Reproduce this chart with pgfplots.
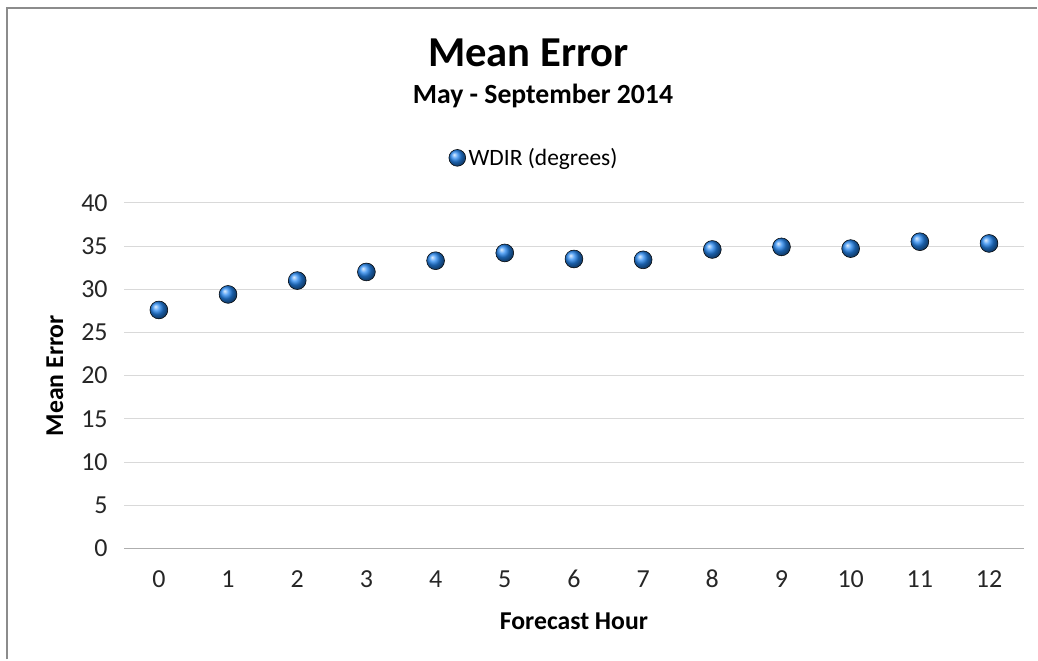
\documentclass[border=0pt]{standalone}
\usepackage{pgfplots}
\pgfplotsset{compat=1.18}
\usepackage{fontspec}
\setmainfont{Carlito}
\definecolor{ballblue}{RGB}{38,135,240}
\definecolor{gridgray}{RGB}{217,217,217}
\definecolor{framegray}{RGB}{140,140,140}
\begin{document}
\begin{tikzpicture}
\path (0,0) rectangle (778.5pt,495pt);
\draw[framegray,line width=1.5pt] (5.5pt,0) -- (5.5pt,489pt) -- (778.5pt,489pt);
\begin{axis}[
  at={(93.3pt,83.25pt)}, anchor=south west,
  scale only axis, width=675.15pt, height=259.5pt,
  xmin=-0.5, xmax=12.5, ymin=0, ymax=40,
  xtick={0,...,12}, ytick={0,5,...,40},
  axis x line=bottom, axis y line=left,
  x axis line style={draw=gridgray!80!black, line width=0.9pt, -},
  y axis line style={draw=none},
  major tick length=0pt,
  ymajorgrids, grid style={draw=gridgray, line width=0.75pt},
  /pgf/number format/assume math mode=true,
  tick label style={font=\fontsize{19.5}{23}\selectfont, text=black!85},
  yticklabel style={xshift=-9pt},
  xticklabel style={anchor=base, yshift=-29pt},
  xlabel={\textbf{Forecast Hour}},
  xlabel style={font=\fontsize{19.3}{23}\selectfont, at={(axis description cs:0.5,0)}, anchor=base, yshift=-60.75pt},
  ylabel={\textbf{Mean Error}},
  ylabel style={font=\fontsize{19.3}{23}\selectfont, at={(axis description cs:-0.0771,0.5)}, anchor=center},
  legend style={at={(axis description cs:0.456,1.13)}, anchor=center, draw=none, fill=none, font=\fontsize{17.6}{21}\selectfont, legend cell align=left, inner xsep=0pt, /tikz/every even column/.append style={column sep=0pt}},
  legend image code/.code={\shade[ball color=ballblue] (0pt,0pt) circle (6.3pt);},
  clip=false,
]
\addplot[only marks, mark=ball, mark size=6.7pt, mark options={ball color=ballblue}]
  coordinates {(0,27.6) (1,29.4) (2,31.0) (3,32.0) (4,33.3) (5,34.2) (6,33.5) (7,33.4) (8,34.6) (9,34.9) (10,34.7) (11,35.5) (12,35.3)};
\addlegendentry{WDIR (degrees)}
\end{axis}
\node[anchor=base, font=\fontsize{32}{38}\selectfont\bfseries] at (396.75pt,445pt) {Mean Error};
\node[anchor=base, font=\fontsize{20.8}{24}\selectfont\bfseries] at (407.6pt,417pt) {May - September 2014};
\end{tikzpicture}
\end{document}
